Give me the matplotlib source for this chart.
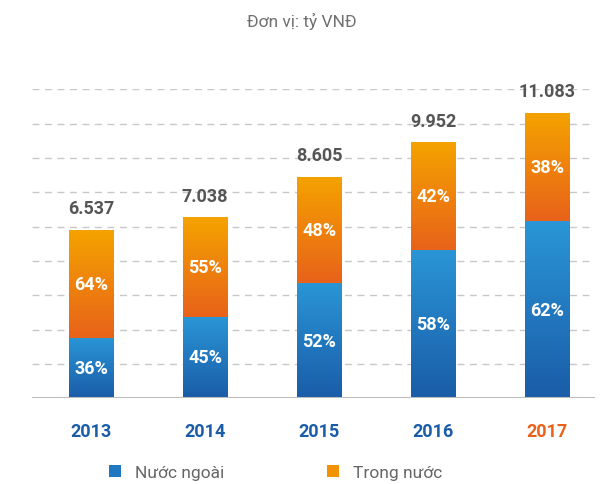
import numpy as np
import matplotlib.pyplot as plt
from matplotlib.patches import Patch

years = ['2013', '2014', '2015', '2016', '2017']
totals = np.array([6537, 7038, 8605, 9952, 11083], dtype=np.float64)
foreign_pct = np.array([36, 45, 52, 58, 62])   # Nước ngoài
domestic_pct = np.array([64, 55, 48, 42, 38])  # Trong nước
total_labels = ['6.537', '7.038', '8.605', '9.952', '11.083']

foreign = totals * foreign_pct / 100
domestic = totals * domestic_pct / 100

plt.rcParams['font.family'] = ['Roboto', 'DejaVu Sans']

fig = plt.figure(figsize=(6.04, 4.85), dpi=100)
ax = fig.add_axes([0.053, 0.177, 0.932, 0.637])

x = np.arange(len(years))
w = 0.39

def gradient_fill(bar, top_col, bot_col):
    # vertical gradient clipped to the bar shape
    grad = np.linspace(0, 1, 256).reshape(-1, 1)
    c1 = np.array(plt.matplotlib.colors.to_rgb(top_col))
    c2 = np.array(plt.matplotlib.colors.to_rgb(bot_col))
    img = c1 * (1 - grad[..., None]) + c2 * grad[..., None]
    bx, by = bar.get_x(), bar.get_y()
    bw, bh = bar.get_width(), bar.get_height()
    im = ax.imshow(img, extent=[bx, bx + bw, by, by + bh], aspect='auto',
                   origin='upper', zorder=2)
    im.set_clip_path(bar)
    bar.set_facecolor('none')

b1 = ax.bar(x, foreign, w, zorder=2, linewidth=0)
b2 = ax.bar(x, domestic, w, bottom=foreign, zorder=2, linewidth=0)
for b in b1:
    gradient_fill(b, '#2a96d6', '#1a5ca8')
for b in b2:
    gradient_fill(b, '#f5a300', '#e8621a')

for i in range(len(years)):
    ax.text(x[i], foreign[i] / 2, f'{foreign_pct[i]}%', ha='center', va='center',
            color='white', fontsize=13, fontweight='bold', zorder=3)
    ax.text(x[i], foreign[i] + domestic[i] / 2, f'{domestic_pct[i]}%', ha='center',
            va='center', color='white', fontsize=13, fontweight='bold', zorder=3)
    ax.text(x[i], totals[i] + 480, total_labels[i], ha='center', va='bottom',
            color='#555555', fontsize=13, fontweight='bold', zorder=3, clip_on=False)

ax.set_xlim(-0.52, 4.42)
ax.set_ylim(0, 12000)
for gy in np.linspace(0, 12000, 10)[1:]:
    ax.axhline(gy, color='#c8c8c8', linestyle=(0, (5, 4)), linewidth=1, zorder=1)
ax.axhline(0, color='#bbbbbb', linewidth=2.2, zorder=4)

for s in ax.spines.values():
    s.set_visible(False)
ax.set_yticks([])
ax.set_xticks(x)
ax.set_xticklabels(years, fontsize=13, fontweight='bold')
ax.tick_params(axis='x', length=0, pad=17)
for i, t in enumerate(ax.get_xticklabels()):
    t.set_color('#e8621a' if i == len(years) - 1 else '#1a5ca8')

fig.text(0.5, 0.955, 'Đơn vị: tỷ VNĐ', ha='center', va='center',
         color='#707070', fontsize=12.5)

handles = [Patch(facecolor='#1f78c0', label='Nước ngoài'),
           Patch(facecolor='#f39200', label='Trong nước')]
fig.legend(handles=handles, loc='center', bbox_to_anchor=(0.456, 0.024), ncol=2,
           frameon=False, fontsize=12.5, handlelength=0.7, handleheight=0.7,
           columnspacing=5.9, handletextpad=0.8, labelcolor='#666666')

fig.savefig('out.png', dpi=100)
